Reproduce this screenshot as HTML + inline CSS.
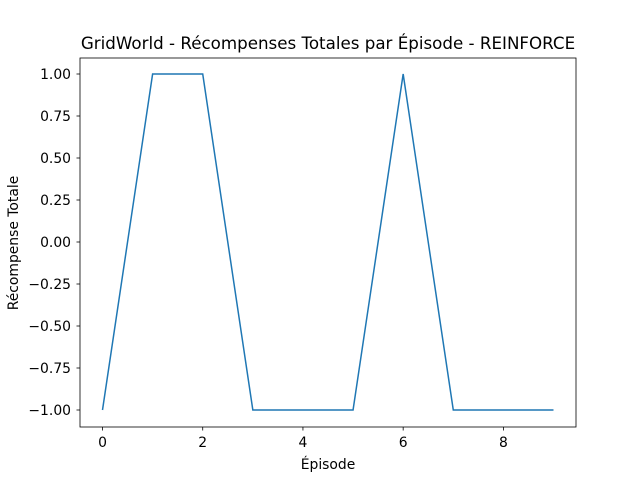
<!DOCTYPE html>
<html><head><meta charset="utf-8"><style>
body{margin:0;background:#fff}
svg text{font-family:"DejaVu Sans","Liberation Sans",sans-serif;fill:#000}
</style></head><body>
<svg id="chart" width="640" height="480" xmlns="http://www.w3.org/2000/svg">
<rect width="640" height="480" fill="#fff"/>
<text x="328" y="49" font-size="16.7" text-anchor="middle">GridWorld - Récompenses Totales par Épisode - REINFORCE</text>
<g id="ticks"></g>
<polyline id="line" fill="none" stroke="#1f77b4" stroke-width="1.5"/>
<rect x="80" y="58" width="496" height="369" fill="none" stroke="#000" stroke-width="0.8"/>
<text x="328" y="469" font-size="13.9" text-anchor="middle">Épisode</text>
<text transform="translate(18,243) rotate(-90)" font-size="13.9" text-anchor="middle">Récompense Totale</text>
</svg>
<script>
const episodes=[0,1,2,3,4,5,6,7,8,9];
const rewards=[-1,1,1,-1,-1,-1,1,-1,-1,-1];
const xTicks=[0,2,4,6,8];
const yTicks=[-1,-0.75,-0.5,-0.25,0,0.25,0.5,0.75,1];
const xs=v=>102.5+v*(553.5-102.5)/9;
const ys=v=>242-v*168;
const ns="http://www.w3.org/2000/svg";
const g=document.getElementById('ticks');
function mk(t,a){const e=document.createElementNS(ns,t);for(const k in a)e.setAttribute(k,a[k]);g.appendChild(e);return e;}
xTicks.forEach(v=>{
 const l=mk('line',{x1:xs(v),x2:xs(v),y1:427,y2:430.5,stroke:'#000','stroke-width':0.8});
 
 
 const t=mk('text',{x:xs(v),y:447,'font-size':13.9,'text-anchor':'middle'});t.textContent=v;
 
 
});
yTicks.forEach(v=>{
 const l=mk('line',{x1:76.5,x2:80,y1:ys(v),y2:ys(v),stroke:'#000','stroke-width':0.8});
 
 
 const t=mk('text',{x:71,y:ys(v)+5,'font-size':13.9,'text-anchor':'end'});t.textContent=(v<0?'\u2212':'')+Math.abs(v).toFixed(2);
 
 
});
document.getElementById('line').setAttribute('points',episodes.map((e,i)=>xs(e)+','+ys(rewards[i])).join(' '));
</script>
</body></html>
